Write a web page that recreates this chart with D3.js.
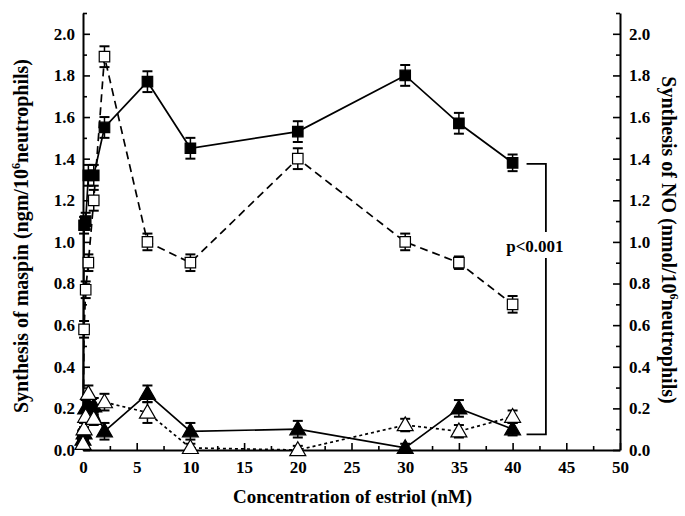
<!DOCTYPE html>
<html>
<head>
<meta charset="utf-8">
<script src="https://cdn.jsdelivr.net/npm/d3@7"></script>
<style>
  body { margin: 0; background: #fff; }
  text { font-family: "Liberation Serif", "Times New Roman", serif; font-weight: bold; }
</style>
</head>
<body>
<script>
// concentrations of estriol (nM), shared by all four series
var conc = [0, 0.1, 0.25, 0.5, 1, 2, 6, 10, 20, 30, 35, 40];

// maspin (filled squares, solid) and its error
var maspinFilled = [0.07, 1.08, 1.10, 1.32, 1.32, 1.55, 1.77, 1.45, 1.53, 1.80, 1.57, 1.38];
var maspinFilledErr = [0.03, 0.04, 0.04, 0.05, 0.05, 0.05, 0.05, 0.05, 0.05, 0.05, 0.05, 0.04];
// open squares, dashed
var maspinOpen = [0.05, 0.58, 0.77, 0.90, 1.20, 1.89, 1.00, 0.90, 1.40, 1.00, 0.90, 0.70];
var maspinOpenErr = [0.03, 0.04, 0.04, 0.04, 0.05, 0.05, 0.04, 0.04, 0.05, 0.04, 0.03, 0.04];
// NO (filled triangles, solid)
var noFilled = [0.05, 0.08, 0.20, 0.21, 0.21, 0.09, 0.27, 0.09, 0.10, 0.01, 0.20, 0.10];
var noFilledErr = [0.03, 0.03, 0.04, 0.04, 0.04, 0.04, 0.04, 0.04, 0.04, 0.02, 0.04, 0.03];
// open triangles, dotted
var noOpen = [0.03, 0.10, 0.16, 0.27, 0.15, 0.23, 0.18, 0.01, 0.00, 0.12, 0.09, 0.16];
var noOpenErr = [0.02, 0.03, 0.03, 0.04, 0.03, 0.04, 0.05, 0.02, 0.02, 0.03, 0.03, 0.03];

var xTicks = [0, 5, 10, 15, 20, 25, 30, 35, 40, 45, 50];
var yTicks = [0, 0.2, 0.4, 0.6, 0.8, 1.0, 1.2, 1.4, 1.6, 1.8, 2.0];

// p-value bracket (x in nM, y in axis units)
var bracket = { x0: 41.3, x1: 43.1, yTop: 1.375, yBottom: 0.075, label: "p<0.001" };

var W = 685, H = 516;
var margin = { top: 13, right: 65, bottom: 66, left: 83 };

var xScale = d3.scaleLinear().domain([0, 50]).range([margin.left, W - margin.right]);
var yScale = d3.scaleLinear().domain([0, 2.1]).range([H - margin.bottom, margin.top]);
var yRight = d3.scaleLinear().domain([0, 2.1]).range([H - margin.bottom, margin.top]);

var svg = d3.select("body").append("svg")
    .attr("width", W)
    .attr("height", H);

// axes
svg.append("g")
    .attr("transform", "translate(0," + (H - margin.bottom) + ")")
    .call(d3.axisBottom(xScale).tickValues(xTicks).tickSizeInner(-7).tickSizeOuter(0).tickPadding(11).tickFormat(d3.format("d")));
svg.append("g")
    .attr("transform", "translate(0," + (H - margin.bottom) + ")")
    .call(d3.axisBottom(xScale).tickValues(xTicks.slice(0, -1).map(function (d) { return d + 2.5; })).tickSize(-4).tickFormat(""))
    .select(".domain").remove();

svg.append("g")
    .attr("transform", "translate(" + margin.left + ",0)")
    .call(d3.axisLeft(yScale).tickValues(yTicks).tickSizeInner(-7).tickSizeOuter(0).tickPadding(8).tickFormat(d3.format(".1f")));
svg.append("g")
    .attr("transform", "translate(" + margin.left + ",0)")
    .call(d3.axisLeft(yScale).tickValues(yTicks.map(function (d) { return d + 0.1; })).tickSize(-4).tickFormat(""))
    .select(".domain").remove();

svg.append("g")
    .attr("transform", "translate(" + (W - margin.right) + ",0)")
    .call(d3.axisRight(yRight).tickValues(yTicks).tickSizeInner(-7).tickSizeOuter(0).tickPadding(9).tickFormat(d3.format(".1f")));
svg.append("g")
    .attr("transform", "translate(" + (W - margin.right) + ",0)")
    .call(d3.axisRight(yRight).tickValues(yTicks.map(function (d) { return d + 0.1; })).tickSize(-4).tickFormat(""))
    .select(".domain").remove();

svg.selectAll(".domain").attr("stroke-width", 2);
svg.selectAll(".tick line").attr("stroke-width", 1.6);
svg.selectAll(".tick text").attr("font-size", 17).attr("fill", "#000");

// series
var series = [
    { values: maspinFilled, err: maspinFilledErr, shape: "square", fill: "#000", dash: null },
    { values: maspinOpen, err: maspinOpenErr, shape: "square", fill: "#fff", dash: "8,5" },
    { values: noFilled, err: noFilledErr, shape: "triangle", fill: "#000", dash: null },
    { values: noOpen, err: noOpenErr, shape: "triangle", fill: "#fff", dash: "3,3" }
];

var line = d3.line()
    .x(function (d) { return xScale(d.x); })
    .y(function (d) { return yScale(d.y); });

var plot = svg.append("g");

series.forEach(function (s) {
    var pts = conc.map(function (c, i) { return { x: c, y: s.values[i], e: s.err[i] }; });

    plot.append("path")
        .datum(pts)
        .attr("d", line)
        .attr("fill", "none")
        .attr("stroke", "#000")
        .attr("stroke-width", 1.7)
        .attr("stroke-dasharray", s.dash);

    var eb = plot.append("g").selectAll("g").data(pts).enter().append("g");
    eb.append("line")
        .attr("x1", function (d) { return xScale(d.x); })
        .attr("x2", function (d) { return xScale(d.x); })
        .attr("y1", function (d) { return yScale(d.y + d.e); })
        .attr("y2", function (d) { return yScale(Math.max(0, d.y - d.e)); })
        .attr("stroke", "#000").attr("stroke-width", 1.5);
    [1, -1].forEach(function (sg) {
        eb.append("line")
            .attr("x1", function (d) { return xScale(d.x) - 5; })
            .attr("x2", function (d) { return xScale(d.x) + 5; })
            .attr("y1", function (d) { return yScale(Math.max(0, d.y + sg * d.e)); })
            .attr("y2", function (d) { return yScale(Math.max(0, d.y + sg * d.e)); })
            .attr("stroke", "#000").attr("stroke-width", 2);
    });

    var sym = d3.symbol().type(s.shape === "square" ? d3.symbolSquare : d3.symbolTriangle).size(s.shape === "square" ? 110 : 110);
    plot.append("g").selectAll("path").data(pts).enter().append("path")
        .attr("d", sym)
        .attr("transform", function (d) { return "translate(" + xScale(d.x) + "," + (yScale(d.y) + (s.shape === "triangle" ? 1 : 0)) + ")"; })
        .attr("fill", s.fill)
        .attr("stroke", "#000")
        .attr("stroke-width", 1.2);
});

// p-value bracket
var bx0 = xScale(bracket.x0), bx1 = xScale(bracket.x1);
var byT = yScale(bracket.yTop), byB = yScale(bracket.yBottom);
var byMid = yScale(0.98);
svg.append("path")
    .attr("d", "M" + bx0 + "," + byT + "H" + bx1 + "V" + (byMid - 14))
    .attr("fill", "none").attr("stroke", "#000").attr("stroke-width", 1.8);
svg.append("path")
    .attr("d", "M" + bx1 + "," + (byMid + 12) + "V" + byB + "H" + bx0)
    .attr("fill", "none").attr("stroke", "#000").attr("stroke-width", 1.8);
svg.append("text")
    .attr("x", bx1 - 11)
    .attr("y", byMid + 6)
    .attr("text-anchor", "middle")
    .attr("font-size", 17)
    .text(bracket.label);

// axis titles
svg.append("text")
    .attr("x", (margin.left + W - margin.right) / 2 + 1)
    .attr("y", 503)
    .attr("text-anchor", "middle")
    .attr("font-size", 19)
    .text("Concentration of estriol (nM)");

var lt = svg.append("text")
    .attr("transform", "translate(28," + 236 + ") rotate(-90)")
    .attr("text-anchor", "middle")
    .attr("font-size", 20);
lt.append("tspan").text("Synthesis of maspin (ngm/10");
lt.append("tspan").attr("font-size", 12).attr("dy", -8).text("6");
lt.append("tspan").attr("dy", 8).text("neutrophils)");

var rt = svg.append("text")
    .attr("transform", "translate(662," + 240 + ") rotate(90)")
    .attr("text-anchor", "middle")
    .attr("font-size", 20);
rt.append("tspan").text("Synthesis of NO (nmol/10");
rt.append("tspan").attr("font-size", 12).attr("dy", -8).text("6");
rt.append("tspan").attr("dy", 8).text("neutrophils)");
</script>
</body>
</html>
